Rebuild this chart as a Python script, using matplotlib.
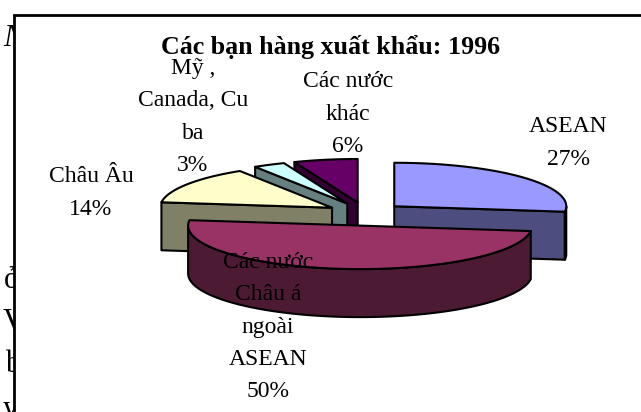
import numpy as np
import matplotlib
matplotlib.use("Agg")
import matplotlib.pyplot as plt
from matplotlib.patches import Polygon, Rectangle

plt.rcParams['font.family'] = ['Liberation Serif', 'DejaVu Serif']

title = "Các bạn hàng xuất khẩu: 1996"
categories = ["ASEAN", "Các nước\nChâu á\nngoài\nASEAN", "Châu Âu", "Mỹ ,\nCanada, Cu\nba", "Các nước\nkhác"]
values = [27, 50, 14, 3, 6]
top_colors = ["#9999FF", "#993366", "#FFFFCC", "#CCFFFF", "#660066"]
side_colors = ["#4D4D80", "#4D1A33", "#808066", "#668080", "#330033"]
label_xy = [(568, 143), (268, 327), (91, 193), (193, 117), (348, 114)]
draw_order = [4, 3, 2, 0, 1]

W, H = 641, 412
CX, CY, RX, RY, DEPTH, EXPLODE = 365, 214, 172, 43.5, 48, 39

fig = plt.figure(figsize=(W / 100, H / 100), dpi=100)
ax = fig.add_axes([0, 0, 1, 1])
ax.set_xlim(0, W)
ax.set_ylim(H, 0)
ax.axis("off")

# Page text showing behind the chart box
for s, x, y, st in [("N", 3, 38, "italic"), ("ở", 4, 281, "normal"), ("V", 3, 322, "normal"),
                    ("b", 5, 364, "normal"), ("y", 3, 410, "normal")]:
    ax.text(x, y, s, fontsize=22, style=st, va="center", ha="left", color="black", zorder=1)
ax.add_patch(Rectangle((14, 15), W, H, facecolor="white", edgecolor="black", linewidth=2.0, zorder=2))

total = sum(values)
fracs = np.cumsum([0] + values) / total * 2 * np.pi


def pt(c, a, r=1.0):
    return np.array([c[0] + RX * r * np.sin(a), c[1] - RY * r * np.cos(a)])


for i in draw_order:
    a0, a1 = fracs[i], fracs[i + 1]
    mid = (a0 + a1) / 2
    c = (CX + EXPLODE * np.sin(mid), CY - EXPLODE * 0.3 * np.cos(mid))
    base = np.array([0, DEPTH])
    kw = dict(edgecolor="black", linewidth=1.5, joinstyle="round", zorder=3 + draw_order.index(i))
    # cut faces
    if np.sin(a0) < -1e-6:
        p = [pt(c, a0), np.array(c), np.array(c) + base, pt(c, a0) + base]
        ax.add_patch(Polygon(p, facecolor=side_colors[i], **kw))
    if np.sin(a1) > 1e-6:
        p = [pt(c, a1), np.array(c), np.array(c) + base, pt(c, a1) + base]
        ax.add_patch(Polygon(p, facecolor=side_colors[i], **kw))
    # outer wall on the front half
    lo, hi = max(a0, np.pi / 2), min(a1, 3 * np.pi / 2)
    if hi > lo:
        t = np.linspace(lo, hi, 80)
        top = [pt(c, v) for v in t]
        bot = [pt(c, v) + base for v in t[::-1]]
        ax.add_patch(Polygon(top + bot, facecolor=side_colors[i], **kw))
    # top face
    t = np.linspace(a0, a1, 120)
    ax.add_patch(Polygon([np.array(c)] + [pt(c, v) for v in t], facecolor=top_colors[i], **kw))

ax.text(331, 47, title, fontsize=18.7, fontweight="bold", ha="center", va="center", zorder=20)
for name, v, (x, y) in zip(categories, values, label_xy):
    ax.text(x, y, f"{name}\n{v}%", fontsize=17, ha="center", va="center", linespacing=1.69,
            color="black", zorder=20)

fig.savefig("out.png", dpi=100)
